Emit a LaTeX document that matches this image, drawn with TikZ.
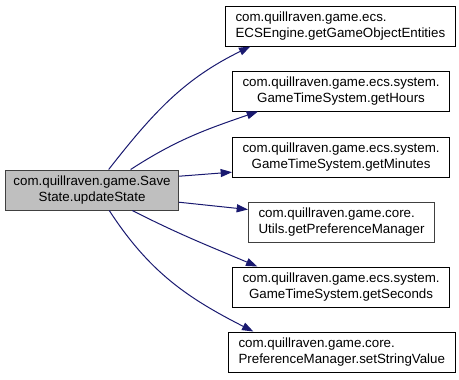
\documentclass[tikz,border=0pt]{standalone}
\usepackage{fontspec}
\setmainfont{Liberation Sans}
\usetikzlibrary{arrows.meta}

\begin{document}
\begin{tikzpicture}[
  x=0.75pt, y=-0.75pt,
  font=\fontsize{10pt}{12pt}\selectfont,
  fn/.style    = {draw=black, line width=0.75pt, fill=white, anchor=west,
                  inner xsep=7.5pt, inner ysep=0pt, minimum height=30pt,
                  align=center},
  fnleft/.style= {fn, align=left},
  ext/.style   = {fn, draw=black!75},
  root/.style  = {fn, draw=black!75, fill=black!25, inner xsep=6pt},
  call/.style  = {-{Triangle[length=8.5pt,width=6pt]}, line width=0.75pt,
                  draw=midnight},
]
\definecolor{midnight}{HTML}{191970}
\useasboundingbox (0,0) rectangle (459,379);

%% ==== caller on the left ==================================================
\node[root] (upd) at (5,190) {com.quillraven.game.Save\\State.updateState};

%% ==== callees, one column on the right ====================================
\node[fnleft] (ents) at (225,26)
  {com.quillraven.game.ecs.\\ECSEngine.getGameObjectEntities};
\node[fn] (hours) at (232,91)
  {com.quillraven.game.ecs.system.\\GameTimeSystem.getHours};
\node[fn] (mins) at (232,157)
  {com.quillraven.game.ecs.system.\\GameTimeSystem.getMinutes};
\node[ext, align=left] (prefmgr) at (248,222)
  {com.quillraven.game.core.\\Utils.getPreferenceManager};
\node[fn] (secs) at (232,287)
  {com.quillraven.game.ecs.system.\\GameTimeSystem.getSeconds};
\node[fnleft] (setstr) at (228,352)
  {com.quillraven.game.core.\\PreferenceManager.setStringValue};

%% ==== calls ===============================================================
\draw[call] (upd.51) to[out=52, in=206] ([xshift=19pt]ents.south west);
\draw[call] (upd.28) to[out=33, in=199] ([xshift=19.5pt]hours.south west);
\draw[call] (upd.9) -- ([yshift=4pt]mins.south west);
\draw[call] (upd.-8) -- ([yshift=-6pt]prefmgr.north west);
\draw[call] (upd.-27) to[out=-27, in=157] ([xshift=19pt]secs.north west);
\draw[call] (upd.-50) to[out=-57, in=153] ([xshift=19pt]setstr.north west);

\end{tikzpicture}
\end{document}
